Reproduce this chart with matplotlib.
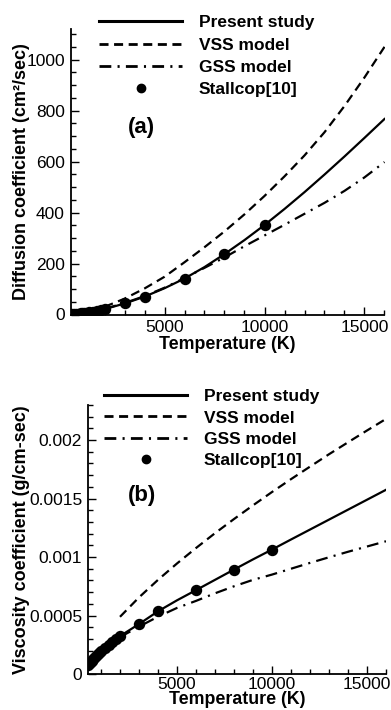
import matplotlib
matplotlib.use("Agg")
import matplotlib.pyplot as plt
from matplotlib.ticker import MultipleLocator, FuncFormatter
from matplotlib.lines import Line2D

plt.rcParams['font.family'] = ['Liberation Sans', 'DejaVu Sans']
plt.rcParams['lines.scale_dashes'] = False

# ---------------- data ----------------
# Diffusion coefficient (cm^2/sec)
T_present = [300, 500, 700, 1000, 1500, 2000, 3000, 4000, 5000, 6000, 7000,
             8000, 9000, 10000, 11000, 12000, 13000, 14000, 15000, 16000]
D_present = [0.8, 1.8, 3.3, 6.2, 12.5, 21, 43, 70, 103, 141, 186,
             237, 292, 351, 414, 480, 549, 620, 693, 767]

T_model = [2000, 3000, 4000, 5000, 6000, 7000, 8000, 9000, 10000,
           11000, 12000, 13000, 14000, 15000, 16000]
D_vss = [30, 62, 102, 148, 205, 264, 326, 393, 465, 542, 624, 715, 818, 930, 1050]
D_gss = [22, 45, 72, 105, 143, 183, 224, 268, 310, 352, 395, 438, 485, 538, 598]

T_stallcop = [300, 400, 500, 600, 700, 800, 900, 1000, 1200, 1400, 1600, 1800,
              2000, 3000, 4000, 6000, 8000, 10000]
D_stallcop = [0.8, 1.3, 1.9, 2.6, 3.4, 4.3, 5.2, 6.2, 8.5, 11, 14, 17,
              21, 44, 70, 140, 237, 350]

# Viscosity coefficient (g/cm-sec)
V_present = [0.000078, 0.000115, 0.000148, 0.000193, 0.000260, 0.000324, 0.000427,
             0.000536, 0.000630, 0.000717, 0.000805, 0.000893, 0.000980, 0.001064,
             0.001150, 0.001235, 0.001320, 0.001405, 0.001490, 0.001575]
V_vss = [0.000489, 0.000655, 0.000805, 0.000945, 0.001077, 0.001204, 0.001325,
         0.001442, 0.001556, 0.001666, 0.001773, 0.001879, 0.001981, 0.002082, 0.002181]
V_gss = [0.000315, 0.000405, 0.000490, 0.000565, 0.000625, 0.000690, 0.000750,
         0.000805, 0.000850, 0.000900, 0.000950, 0.000998, 0.001045, 0.001090, 0.001135]
V_stallcop = [0.000078, 0.000097, 0.000115, 0.000132, 0.000148, 0.000163, 0.000178,
              0.000193, 0.000221, 0.000248, 0.000273, 0.000299, 0.000324, 0.000427,
              0.000536, 0.000717, 0.000893, 0.001064]

series_labels = ["Present study", "VSS model", "GSS model", "Stallcop[10]"]

# ---------------- figure ----------------
W, H = 391, 710
fig = plt.figure(figsize=(W / 100, H / 100), dpi=100)


def px_axes(left, top, right, bottom):
    return fig.add_axes([left / W, 1 - bottom / H, (right - left) / W, (bottom - top) / H])


LW = 1.6
DASH = (0, (6.5, 4))
DASHDOT = (0, (8.5, 4.5, 1.5, 4.5))
MS = 7.2


def style_axes(ax, xpad=4, xlabelpad=1):
    for s in ("top", "right"):
        ax.spines[s].set_visible(False)
    for s in ("left", "bottom"):
        ax.spines[s].set_linewidth(1.3)
    ax.tick_params(which="both", direction="in", labelsize=12.5, width=1.0)
    ax.tick_params(which="major", length=6, pad=4)
    ax.tick_params(axis="x", which="major", pad=xpad)
    ax.tick_params(which="minor", length=3.5)
    ax.xaxis.set_major_locator(MultipleLocator(5000))
    ax.xaxis.set_minor_locator(MultipleLocator(1000))
    ax.set_xlim(300, 16000)
    ax.set_xlabel("Temperature (K)", fontsize=12.8, fontweight="bold", labelpad=xlabelpad)


def draw_panel(ax, y_present, y_vss, y_gss, y_stall):
    ax.plot(T_present, y_present, color="black", lw=LW, ls="-", zorder=3)
    ax.plot(T_model, y_vss, color="black", lw=LW, ls=DASH, zorder=3)
    ax.plot(T_model, y_gss, color="black", lw=LW, ls=DASHDOT, zorder=3)
    ax.plot(T_stallcop, y_stall, ls="none", marker="o", ms=MS, color="black", zorder=4)


def add_legend(left_px, top_px, spacing):
    handles = [
        Line2D([], [], color="black", lw=LW + 0.6, ls="-"),
        Line2D([], [], color="black", lw=LW + 0.4, ls=DASH),
        Line2D([], [], color="black", lw=LW + 0.4, ls=DASHDOT),
        Line2D([], [], color="black", ls="none", marker="o", ms=6),
    ]
    fig.legend(handles, series_labels, loc="upper left",
               bbox_to_anchor=(left_px / W, 1 - top_px / H),
               bbox_transform=fig.transFigure, frameon=False,
               prop={"weight": "bold", "size": 12.5},
               handlelength=4.8, handletextpad=0.95, labelspacing=spacing,
               borderpad=0, borderaxespad=0)


# ---- panel (a): diffusion ----
ax1 = px_axes(70.5, 29, 384.5, 314.5)
style_axes(ax1)
draw_panel(ax1, D_present, D_vss, D_gss, D_stallcop)
ax1.set_ylim(0, 1120)
ax1.yaxis.set_major_locator(MultipleLocator(200))
ax1.yaxis.set_minor_locator(MultipleLocator(50))
ax1.set_ylabel("Diffusion coefficient (cm\u00b2/sec)", fontsize=13, fontweight="bold")
ax1.yaxis.set_label_coords((30 - 70.5) / (384.5 - 70.5), 0.5)
add_legend(99, 15, 0.42)
fig.text(141 / W, 1 - 128 / H, "(a)", fontsize=16, fontweight="bold", ha="center", va="center")

# ---- panel (b): viscosity ----
ax2 = px_axes(87.7, 405, 386, 674)
style_axes(ax2, xpad=2.5, xlabelpad=-1)
draw_panel(ax2, V_present, V_vss, V_gss, V_stallcop)
ax2.set_ylim(0, 0.0023)
ax2.yaxis.set_major_locator(MultipleLocator(0.0005))
ax2.yaxis.set_minor_locator(MultipleLocator(0.0001))
ax2.yaxis.set_major_formatter(FuncFormatter(lambda v, p: f"{v:g}"))
ax2.set_ylabel("Viscosity coefficient (g/cm-sec)", fontsize=13, fontweight="bold")
ax2.yaxis.set_label_coords((30 - 87.7) / (386 - 87.7), 0.5)
add_legend(104, 389, 0.36)
fig.text(142 / W, 1 - 496 / H, "(b)", fontsize=16, fontweight="bold", ha="center", va="center")

fig.savefig("out.png", dpi=100)
